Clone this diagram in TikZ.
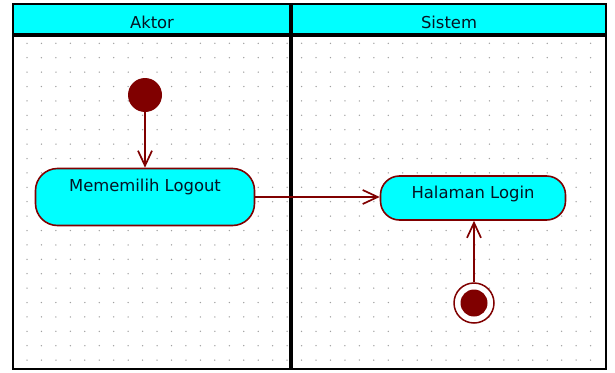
\documentclass[tikz,border=0pt]{standalone}
\usepackage{fontspec}
\setmainfont{DejaVu Sans}
\usetikzlibrary{arrows.meta}
\definecolor{laneCyan}{RGB}{0,255,255}
\definecolor{umlRed}{RGB}{128,0,0}
\definecolor{dotGray}{RGB}{160,160,160}
\definecolor{inkText}{RGB}{5,20,35}
\begin{document}
\begin{tikzpicture}[x=1pt,y=-1pt,
  lanetitle/.style={font=\fontsize{16.4}{18}\selectfont, text=inkText, inner sep=0pt},
  actbox/.style={draw=umlRed, line width=1.6pt, fill=laneCyan, inner sep=0pt},
  acttext/.style={font=\fontsize{16.4}{18}\selectfont, text=inkText, inner sep=0pt},
  flow/.style={draw=umlRed, line width=1.7pt, -{Straight Barb[length=15pt,width=14pt,line width=1.7pt]}},
  border/.style={draw=black, line width=2.8pt}]
  \useasboundingbox (0,0) rectangle (615,372);
  \fill[white] (0,0) rectangle (615,372);
  % swimlane headers
  \fill[laneCyan] (13,4) rectangle (606,35);
  % dotted background grid
  \foreach \i in {0,...,39} {
    \foreach \j in {0,...,22} {
      \fill[dotGray] (27+14.45*\i,43.3+14.4*\j) circle (0.75pt);
    }
  }
  % lane frame
  \draw[border] (13,4) rectangle (606,369);
  \draw[border, line width=3.2pt] (13,35) -- (606,35);
  \draw[border, line width=3.6pt] (291,4) -- (291,369);
  \node[lanetitle] (aktor) at (152,22) {Aktor};
  \node[lanetitle] (sistem) at (449,22) {Sistem};
  % start node
  \node[circle, fill=umlRed, minimum size=34pt, inner sep=0pt] (start) at (145,95) {};
  % actions
  \node[actbox, rounded corners=22pt, minimum width=219pt, minimum height=57pt] (logout) at (145,197) {};
  \node[acttext] (logoutText) at (145,187) {Mememilih Logout};
  \node[actbox, rounded corners=19pt, minimum width=185pt, minimum height=44pt] (login) at (473,198) {};
  \node[acttext] (loginText) at (473,194) {Halaman Login};
  % final node
  \node[circle, draw=umlRed, line width=1.5pt, fill=white, minimum size=40pt, inner sep=0pt] (final) at (474,303) {};
  \node[circle, fill=umlRed, minimum size=27pt, inner sep=0pt] (finalDot) at (final.center) {};
  % control flows
  \draw[flow] (start.south) -- (logout.north);
  \draw[flow] (logout.east) -- (logout.east -| login.west);
  \draw[flow] (final.north) -- (login.south -| final.north);
\end{tikzpicture}
\end{document}
